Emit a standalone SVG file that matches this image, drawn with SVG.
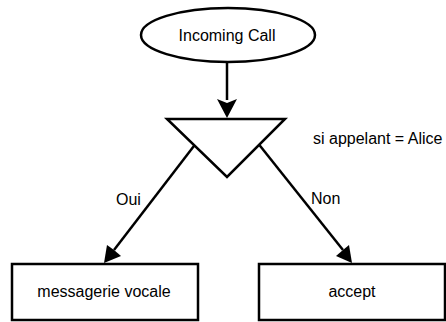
<svg xmlns="http://www.w3.org/2000/svg" width="446" height="322" viewBox="0 0 446 322">
  <style>
    .shape { fill: #ffffff; stroke: #000000; stroke-width: 2.5; }
    .edge { fill: none; stroke: #000000; stroke-width: 2.5; }
    .head { fill: #000000; }
    .label { font-family: "Liberation Sans", Arial, sans-serif; font-size: 16px; fill: #000000; }
    .mid { text-anchor: middle; }
  </style>
  <rect width="446" height="322" fill="#ffffff"/>

  <g id="connectors">
    <path class="edge" d="M227,63 L227,100"/>
    <path class="head" d="M217,99 L227,118 L237,99 L227,103 Z"/>
    <path class="edge" d="M197,142 L114,250"/>
    <path class="head" d="M107,245 L104,263 L121,256 L114,250 Z"/>
    <path class="edge" d="M257,142 L343,250"/>
    <path class="head" d="M336,256 L352,263 L349,245 L343,250 Z"/>
    <text class="label" x="116" y="205">Oui</text>
    <text class="label" x="311" y="204">Non</text>
  </g>

  <g id="incoming-call">
    <ellipse class="shape" cx="228" cy="35" rx="87" ry="27"/>
    <text class="label mid" x="227" y="41">Incoming Call</text>
  </g>

  <g id="decision">
    <polygon class="shape" points="167,119 285,119 227,177"/>
    <text class="label" x="313" y="144">si appelant = Alice</text>
  </g>

  <g id="messagerie-vocale">
    <rect class="shape" x="12" y="264" width="186" height="56"/>
    <text class="label mid" x="104" y="297">messagerie vocale</text>
  </g>

  <g id="accept">
    <rect class="shape" x="259" y="264" width="186" height="56"/>
    <text class="label mid" x="352" y="297">accept</text>
  </g>
</svg>
